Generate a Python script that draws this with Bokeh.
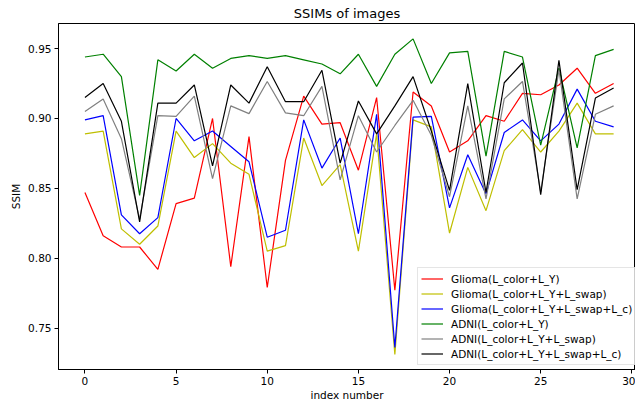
from bokeh.plotting import figure
from bokeh.models import Range1d, Legend, LegendItem, FixedTicker, PrintfTickFormatter
from bokeh.embed import file_html
from bokeh.resources import INLINE

index = list(range(30))

glioma_y = [0.847, 0.816, 0.808, 0.808, 0.792, 0.839, 0.843, 0.900, 0.794, 0.887,
            0.779, 0.870, 0.916, 0.896, 0.897, 0.863, 0.915, 0.777, 0.919, 0.909,
            0.876, 0.884, 0.902, 0.898, 0.918, 0.917, 0.924, 0.936, 0.918, 0.925]
glioma_swap = [0.889, 0.891, 0.821, 0.810, 0.823, 0.891, 0.872, 0.882, 0.868, 0.860,
               0.805, 0.809, 0.886, 0.852, 0.867, 0.805, 0.889, 0.731, 0.899, 0.894,
               0.818, 0.865, 0.834, 0.877, 0.892, 0.876, 0.891, 0.911, 0.889, 0.889]
glioma_swap_c = [0.899, 0.902, 0.831, 0.8175, 0.829, 0.900, 0.884, 0.891, 0.880, 0.869,
                 0.815, 0.820, 0.899, 0.8645, 0.886, 0.8175, 0.903, 0.736, 0.901, 0.9015,
                 0.836, 0.874, 0.846, 0.890, 0.899, 0.884, 0.896, 0.921, 0.898, 0.894]
adni_y = [0.944, 0.946, 0.930, 0.845, 0.942, 0.934, 0.946, 0.936, 0.943, 0.945,
          0.943, 0.945, 0.942, 0.939, 0.932, 0.946, 0.923, 0.946, 0.957, 0.925,
          0.947, 0.948, 0.873, 0.948, 0.944, 0.881, 0.936, 0.879, 0.945, 0.9495]
adni_swap = [0.905, 0.914, 0.8855, 0.828, 0.902, 0.9015, 0.916, 0.857, 0.909, 0.9035,
             0.9265, 0.904, 0.902, 0.923, 0.856, 0.902, 0.876, 0.895, 0.913, 0.888,
             0.844, 0.909, 0.8425, 0.914, 0.9265, 0.8475, 0.935, 0.8425, 0.903, 0.909]
adni_swap_c = [0.915, 0.925, 0.898, 0.826, 0.911, 0.911, 0.924, 0.866, 0.924, 0.911,
               0.937, 0.912, 0.912, 0.9345, 0.868, 0.9125, 0.889, 0.909, 0.930, 0.891,
               0.8485, 0.925, 0.847, 0.9256, 0.9397, 0.8454, 0.9416, 0.849, 0.9146, 0.9218]

labels = ["Glioma(L_color+L_Y)", "Glioma(L_color+L_Y+L_swap)", "Glioma(L_color+L_Y+L_swap+L_c)",
          "ADNI(L_color+L_Y)", "ADNI(L_color+L_Y+L_swap)", "ADNI(L_color+L_Y+L_swap+L_c)"]
colors = ["#ff0000", "#bfbf00", "#0000ff", "#008000", "#808080", "#000000"]
series = [glioma_y, glioma_swap, glioma_swap_c, adni_y, adni_swap, adni_swap_c]

x_ticks = [0, 5, 10, 15, 20, 25, 30]
y_ticks = [0.75, 0.80, 0.85, 0.90, 0.95]

FONT = "DejaVu Sans"

p = figure(frame_width=577, frame_height=346,
           x_range=Range1d(-1.45, 30.2), y_range=Range1d(0.7203, 0.968),
           output_backend="svg", toolbar_location=None,
           min_border_left=58, min_border_right=0, min_border_top=23, min_border_bottom=28,
           title="SSIMs of images")

p.title.align = "center"
p.title.text_font = FONT
p.title.text_font_size = "13px"
p.title.text_font_style = "normal"
p.title.text_color = "black"
p.title.standoff = 5

items = []
for lab, col, ys in zip(labels, colors, series):
    r = p.line(index, ys, line_color=col, line_width=1.2)
    items.append(LegendItem(label=lab, renderers=[r]))

legend = Legend(items=items, location=(359, 4))
legend.label_text_font = FONT
legend.label_text_font_size = "10.5px"
legend.label_text_color = "black"
legend.glyph_width = 22
legend.glyph_height = 15
legend.label_height = 15
legend.spacing = 0
legend.padding = 3
legend.margin = 0
legend.label_standoff = 8
legend.border_line_color = "#cccccc"
legend.background_fill_alpha = 0.8
p.add_layout(legend)

p.xgrid.visible = False
p.ygrid.visible = False
p.outline_line_color = "black"
p.outline_line_alpha = 1
p.outline_line_width = 1

p.xaxis.ticker = FixedTicker(ticks=x_ticks)
p.yaxis.ticker = FixedTicker(ticks=y_ticks)
p.yaxis.formatter = PrintfTickFormatter(format="%.2f")
p.xaxis.axis_label = "index number"
p.yaxis.axis_label = "SSIM"
for ax in (p.xaxis, p.yaxis):
    ax.axis_line_color = "black"
    ax.major_tick_line_color = "black"
    ax.major_tick_out = 4
    ax.major_tick_in = 0
    ax.minor_tick_line_color = None
    ax.major_label_text_font = FONT
    ax.major_label_text_font_size = "10.5px"
    ax.major_label_text_color = "black"
    ax.axis_label_text_font = FONT
    ax.axis_label_text_font_size = "10.5px"
    ax.axis_label_text_font_style = "normal"
    ax.axis_label_text_color = "black"
    ax.major_label_standoff = 3
    ax.axis_label_standoff = 3
p.xaxis.axis_label_standoff = 1

open("out.html", "w").write(file_html(p, INLINE))
